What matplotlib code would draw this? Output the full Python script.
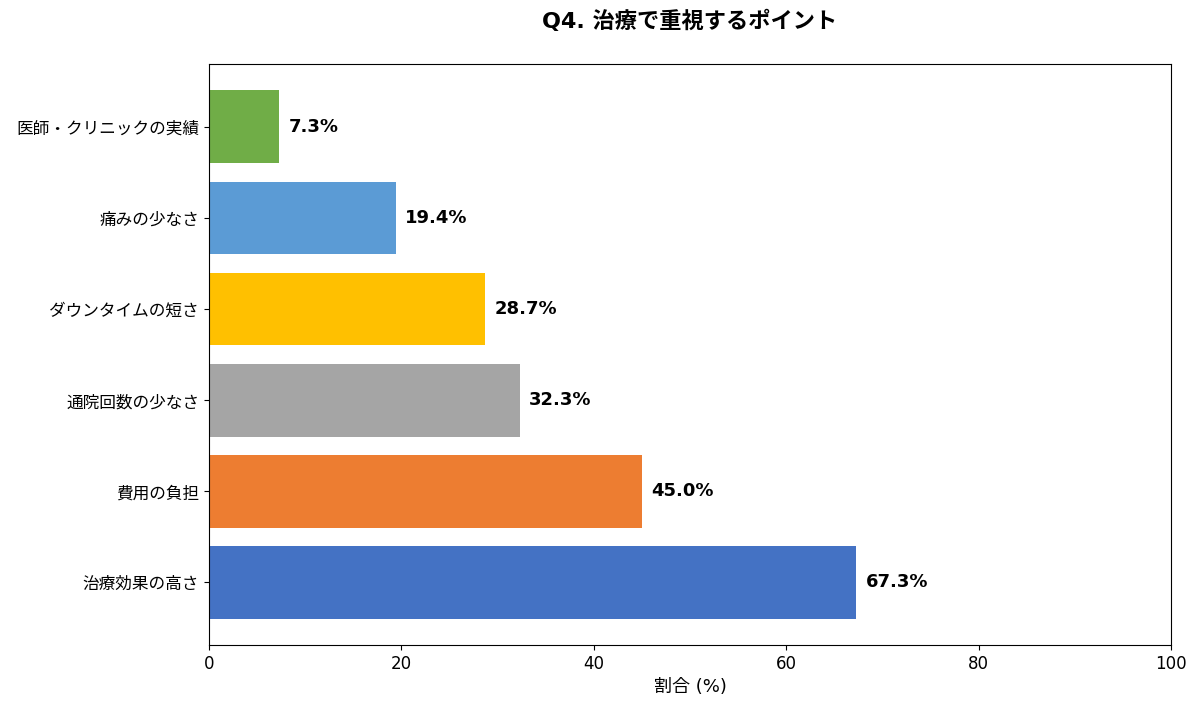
import matplotlib
matplotlib.use("Agg")
import matplotlib.pyplot as plt

# Latin glyphs from DejaVu Sans, Japanese from Noto Sans CJK JP
plt.rcParams['font.family'] = ['DejaVu Sans', 'Noto Sans CJK JP']

# data (drawn bottom-up)
categories = ["治療効果の高さ", "費用の負担", "通院回数の少なさ",
              "ダウンタイムの短さ", "痛みの少なさ", "医師・クリニックの実績"]
values = [67.3, 45.0, 32.3, 28.7, 19.4, 7.3]
colors = ["#4472C4", "#ED7D31", "#A5A5A5", "#FFC000", "#5B9BD5", "#70AD47"]

fig = plt.figure(figsize=(12, 7.12), dpi=100)
ax = fig.add_axes([0.174, 0.094, 0.802, 0.816])

bars = ax.barh(categories, values, color=colors, height=0.8)

# value labels at the end of each bar
for bar, v in zip(bars, values):
    ax.text(bar.get_width() + 1, bar.get_y() + bar.get_height() / 2,
            f"{v:.1f}%", va="center", ha="left",
            fontsize=13, fontweight="bold")

ax.set_xlim(0, 100)
ax.set_xticks(range(0, 101, 20))
ax.tick_params(axis="both", labelsize=12)
ax.set_xlabel("割合 (%)", fontsize=13, labelpad=4)
ax.set_title("Q4. 治療で重視するポイント", fontsize=16, fontweight="bold", pad=26)

plt.savefig("out.png", dpi=100)
